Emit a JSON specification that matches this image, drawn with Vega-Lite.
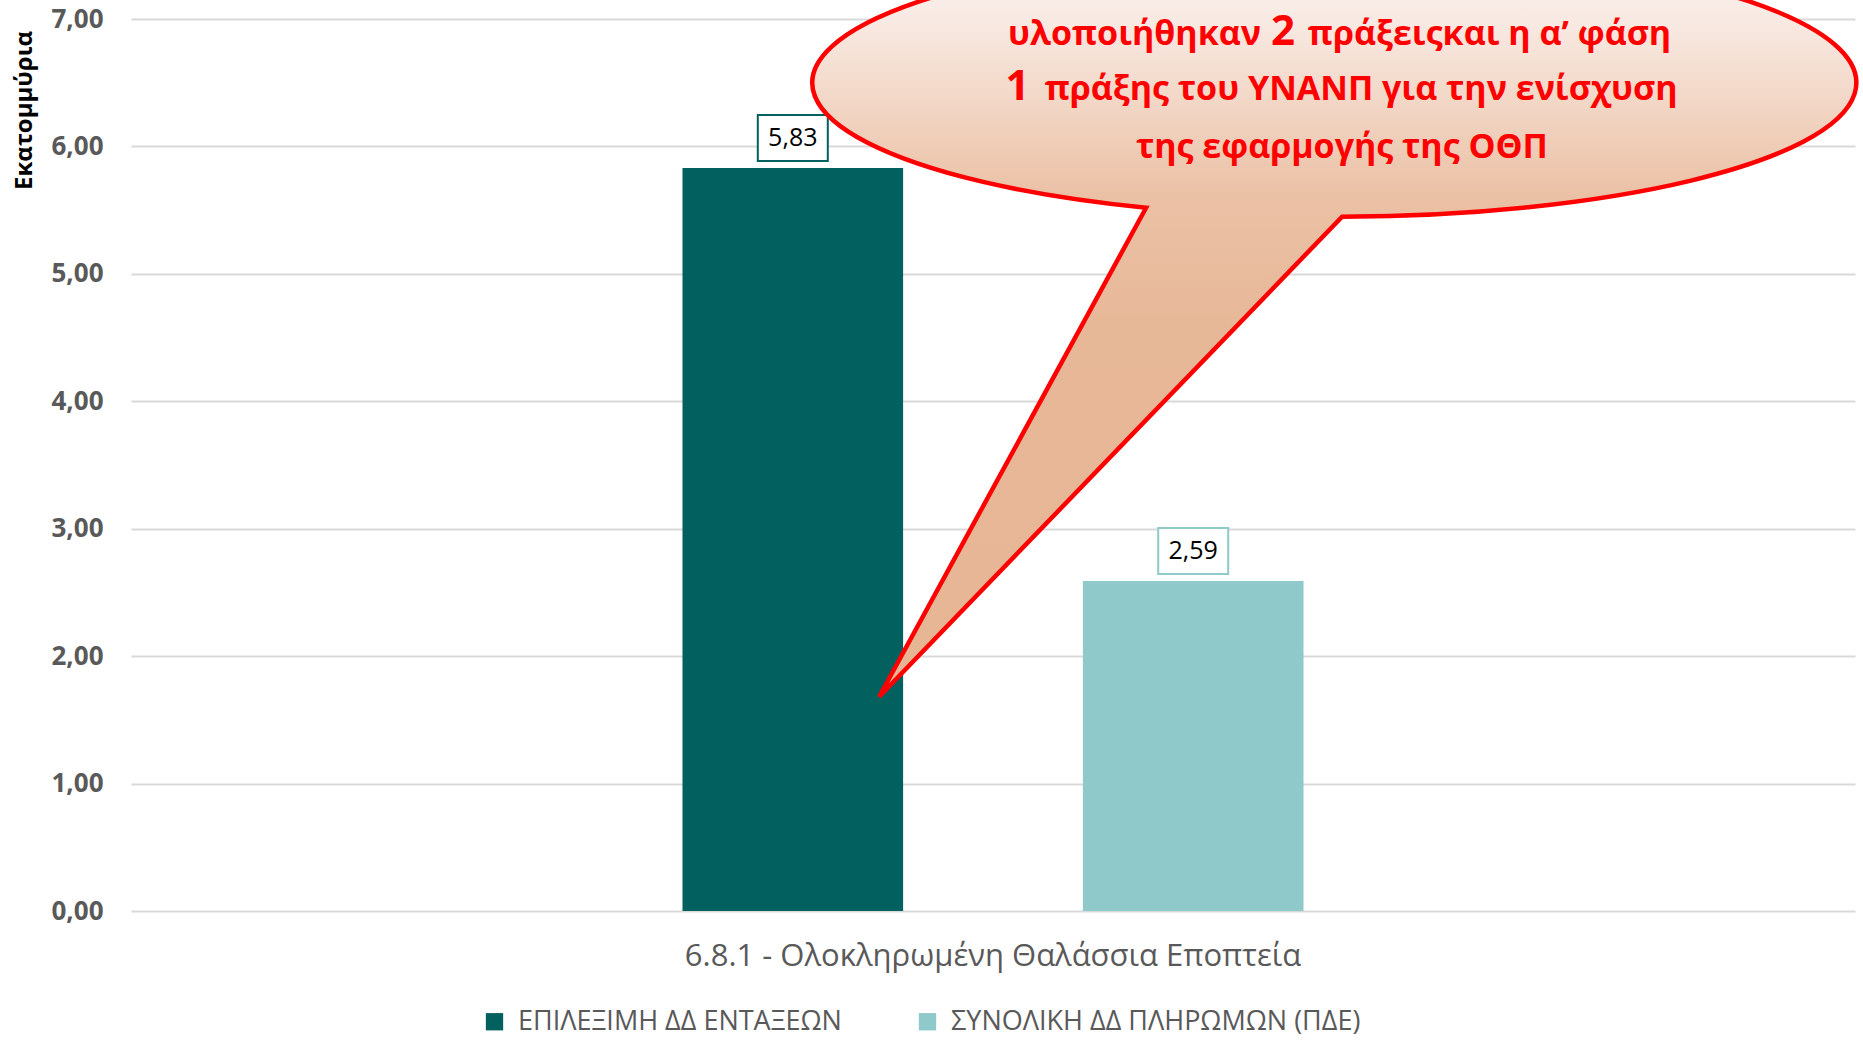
{
  "$schema": "https://vega.github.io/schema/vega-lite/v6.json",
  "width": 1724,
  "height": 892,
  "autosize": {"type": "none"},
  "padding": {"left": 131, "top": 19, "right": 8, "bottom": 129},
  "background": "white",
  "config": {
    "view": {"stroke": null},
    "font": "Open Sans"
  },
  "datasets": {
    "bars": [
      {"cat": "6.8.1 - Ολοκληρωμένη Θαλάσσια Εποπτεία", "series": "ΕΠΙΛΕΞΙΜΗ ΔΔ ΕΝΤΑΞΕΩΝ", "value": 5.83, "label": "5,83"},
      {"cat": "6.8.1 - Ολοκληρωμένη Θαλάσσια Εποπτεία", "series": "ΣΥΝΟΛΙΚΗ ΔΔ ΠΛΗΡΩΜΩΝ (ΠΔΕ)", "value": 2.59, "label": "2,59"}
    ],
    "bubble": [{"px": 0.7025, "py": 6.5}],
    "note": [
      {"px": 0.5821, "py": 6.796, "txt": "υλοποιήθηκαν"},
      {"px": 0.7880, "py": 6.796, "txt": "πράξειςκαι η α’ φάση"},
      {"px": 0.7135, "py": 6.364, "txt": "πράξης  του ΥΝΑΝΠ για την ενίσχυση"},
      {"px": 0.7024, "py": 5.909, "txt": "της εφαρμογής της ΟΘΠ"}
    ],
    "digits": [
      {"px": 0.6682, "py": 6.796, "txt": "2"},
      {"px": 0.5142, "py": 6.364, "txt": "1"}
    ]
  },
  "layer": [
    {
      "data": {"name": "bars"},
      "layer": [
        {
          "mark": {"type": "bar"},
          "encoding": {
            "x": {"field": "cat", "type": "nominal", "title": null, "scale": {"paddingInner": 0, "paddingOuter": 0.888},
              "axis": {"title": null, "labelFontSize": 31, "labelColor": "#595959", "labelFont": "Open Sans", "ticks": false, "domain": false, "labelPadding": 30, "labelAngle": 0, "grid": false, "labelLimit": 0}},
            "xOffset": {"field": "series", "type": "nominal", "sort": ["ΕΠΙΛΕΞΙΜΗ ΔΔ ΕΝΤΑΞΕΩΝ", "ΣΥΝΟΛΙΚΗ ΔΔ ΠΛΗΡΩΜΩΝ (ΠΔΕ)"], "scale": {"paddingInner": 0.449, "paddingOuter": 0}},
            "y": {"field": "value", "type": "quantitative", "title": "Εκατομμύρια", "scale": {"domain": [0, 7], "nice": false},
              "axis": {"values": [0, 1, 2, 3, 4, 5, 6, 7], "labelExpr": "replace(format(datum.value, '.2f'), '.', ',')",
                "labelFont": "Open Sans", "labelFontWeight": "bold", "labelFontSize": 26, "labelColor": "#595959",
                "labelPadding": 28, "ticks": false, "domain": false, "gridColor": "#d9d9d9", "gridWidth": 2,
                "title": "Εκατομμύρια", "titleFont": "Open Sans", "titleFontSize": 24, "titleFontWeight": "bold", "titleColor": "#000000",
                "titleX": -107, "titleY": 91, "titleAlign": "center", "titleBaseline": "middle", "titleAngle": -90}},
            "color": {"field": "series", "type": "nominal", "sort": ["ΕΠΙΛΕΞΙΜΗ ΔΔ ΕΝΤΑΞΕΩΝ", "ΣΥΝΟΛΙΚΗ ΔΔ ΠΛΗΡΩΜΩΝ (ΠΔΕ)"],
              "scale": {"domain": ["ΕΠΙΛΕΞΙΜΗ ΔΔ ΕΝΤΑΞΕΩΝ", "ΣΥΝΟΛΙΚΗ ΔΔ ΠΛΗΡΩΜΩΝ (ΠΔΕ)"], "range": ["#02615e", "#8fc9c9"]},
              "legend": {"orient": "none", "legendX": 350, "legendY": 989, "title": null, "direction": "horizontal", "symbolType": "square", "symbolSize": 300,
                "labelFontSize": 27, "labelColor": "#595959", "labelFont": "Open Sans", "labelLimit": 0, "columnPadding": 72, "labelOffset": 10, "symbolStrokeWidth": 0}}
          }
        },
        {
          "mark": {"type": "point", "shape": "M-35,-23H35V23H-35Z", "size": 4, "filled": true, "fill": "white", "strokeWidth": 2, "opacity": 1, "yOffset": -30},
          "encoding": {
            "x": {"field": "cat", "type": "nominal", "title": null, "scale": {"paddingInner": 0, "paddingOuter": 0.888}},
            "xOffset": {"field": "series", "type": "nominal", "sort": ["ΕΠΙΛΕΞΙΜΗ ΔΔ ΕΝΤΑΞΕΩΝ", "ΣΥΝΟΛΙΚΗ ΔΔ ΠΛΗΡΩΜΩΝ (ΠΔΕ)"], "scale": {"paddingInner": 0.449, "paddingOuter": 0}},
            "y": {"field": "value", "type": "quantitative", "title": "Εκατομμύρια", "scale": {"domain": [0, 7], "nice": false}},
            "stroke": {"field": "series", "type": "nominal", "scale": {"domain": ["ΕΠΙΛΕΞΙΜΗ ΔΔ ΕΝΤΑΞΕΩΝ", "ΣΥΝΟΛΙΚΗ ΔΔ ΠΛΗΡΩΜΩΝ (ΠΔΕ)"], "range": ["#02615e", "#8fcaca"]}, "legend": null}
          }
        },
        {
          "mark": {"type": "text", "font": "Open Sans", "fontSize": 25, "color": "#000000", "baseline": "middle", "yOffset": -30},
          "encoding": {
            "x": {"field": "cat", "type": "nominal", "title": null, "scale": {"paddingInner": 0, "paddingOuter": 0.888}},
            "xOffset": {"field": "series", "type": "nominal", "sort": ["ΕΠΙΛΕΞΙΜΗ ΔΔ ΕΝΤΑΞΕΩΝ", "ΣΥΝΟΛΙΚΗ ΔΔ ΠΛΗΡΩΜΩΝ (ΠΔΕ)"], "scale": {"paddingInner": 0.449, "paddingOuter": 0}},
            "y": {"field": "value", "type": "quantitative", "title": "Εκατομμύρια", "scale": {"domain": [0, 7], "nice": false}},
            "text": {"field": "label"}
          }
        }
      ]
    },
    {
      "layer": [
        {
          "data": {"name": "bubble"},
          "mark": {"type": "point", "shape": "M-196,125 A522,134 0 1 1 0,134 L-463,614 Z", "size": 4, "filled": true, "opacity": 1, "fillOpacity": 1,
            "fill": {"gradient": "linear", "x1": 0, "y1": 0, "x2": 0, "y2": 1, "stops": [
              {"offset": 0, "color": "#fcf4f1"}, {"offset": 0.1, "color": "#f8e9e2"}, {"offset": 0.33, "color": "#ebc1a5"}, {"offset": 0.5, "color": "#e7b898"}, {"offset": 1, "color": "#e6b594"}]},
            "stroke": "#ff0000", "strokeWidth": 4.5, "strokeJoin": "miter"},
          "encoding": {
            "x": {"field": "px", "type": "quantitative", "scale": {"domain": [0, 1], "nice": false}, "axis": null},
            "y": {"field": "py", "type": "quantitative", "title": "Εκατομμύρια", "scale": {"domain": [0, 7], "nice": false}}
          }
        },
        {
          "data": {"name": "note"},
          "mark": {"type": "text", "font": "Open Sans", "fontWeight": "bold", "fontSize": 34, "color": "#ff0000", "align": "center", "baseline": "alphabetic"},
          "encoding": {
            "x": {"field": "px", "type": "quantitative", "scale": {"domain": [0, 1], "nice": false}, "axis": null},
            "y": {"field": "py", "type": "quantitative", "title": "Εκατομμύρια", "scale": {"domain": [0, 7], "nice": false}},
            "text": {"field": "txt"}
          }
        },
        {
          "data": {"name": "digits"},
          "mark": {"type": "text", "font": "Open Sans", "fontWeight": "bold", "fontSize": 42, "color": "#ff0000", "align": "center", "baseline": "alphabetic"},
          "encoding": {
            "x": {"field": "px", "type": "quantitative", "scale": {"domain": [0, 1], "nice": false}, "axis": null},
            "y": {"field": "py", "type": "quantitative", "title": "Εκατομμύρια", "scale": {"domain": [0, 7], "nice": false}},
            "text": {"field": "txt"}
          }
        }
      ]
    }
  ],
  "resolve": {"scale": {"x": "independent"}}
}
